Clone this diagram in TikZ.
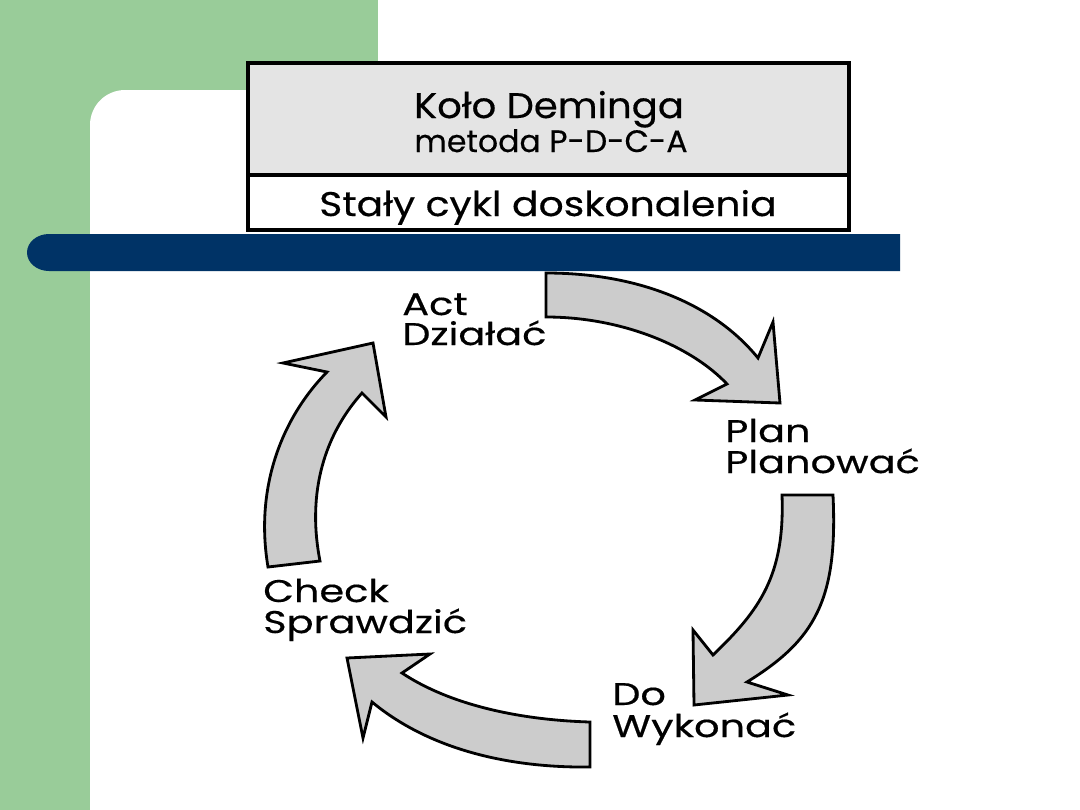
\documentclass[tikz,border=0pt]{standalone}
\usepackage{fontspec}
\setmainfont{Poppins}[FakeBold=0.4]
\usepackage{graphicx}
\definecolor{bggreen}{RGB}{153,204,153}
\definecolor{barblue}{RGB}{0,51,102}
\definecolor{titlegray}{RGB}{228,228,228}
\definecolor{arrowgray}{RGB}{204,204,204}
\newcommand{\stretchtxt}[2][1.27]{\scalebox{#1}[1]{#2}}
\begin{document}
\begin{tikzpicture}[x=0.025cm,y=-0.025cm,
  blockarrow/.style={fill=arrowgray, draw=black, line width=2pt, line join=miter, miter limit=10},
  boxpart/.style={draw=black, line width=2.2pt},
  lbl/.style={anchor=base west, inner sep=0pt, font=\fontsize{22.3}{26}\selectfont},
  ttl/.style={anchor=base, inner sep=0pt}]
\useasboundingbox (0,0) rectangle (1080,810);
% background
\fill[bggreen] (0,0) rectangle (378,810);
\fill[white, rounded corners=0.875cm] (90,900) -- (90,90) -- (1200,90) -- (1200,900) -- cycle;
\fill[barblue] (900,234) -- (49,234) arc[start angle=270, end angle=90, x radius=22, y radius=18.5] -- (900,271) -- cycle;
% title box
\filldraw[boxpart, fill=titlegray] (248,63) rectangle (849,175);
\filldraw[boxpart, fill=white] (248,175) rectangle (849,230);
\node[ttl, font=\fontsize{25.3}{29}\selectfont] (t1) at (549,118) {\stretchtxt[1.085]{Koło Deminga}};
\node[ttl, font=\fontsize{22}{26}\selectfont] (t2) at (551,152) {\stretchtxt[1.02]{metoda P-D-C-A}};
\node[ttl, font=\fontsize{24.3}{28}\selectfont] (t3) at (548,216) {\stretchtxt[1.15]{Stały cykl doskonalenia}};
% labels
\node[lbl] (act1) at (402,315) {\stretchtxt{Act}};
\node[lbl] (act2) at (402,345) {\stretchtxt{Działać}};
\node[lbl] (plan1) at (725,442) {\stretchtxt{Plan}};
\node[lbl] (plan2) at (725,473) {\stretchtxt{Planować}};
\node[lbl] (do1) at (612,705) {\stretchtxt{Do}};
\node[lbl] (do2) at (612,737) {\stretchtxt{Wykonać}};
\node[lbl] (chk1) at (263,602) {\stretchtxt{Check}};
\node[lbl] (chk2) at (263,633) {\stretchtxt{Sprawdzić}};
% arrows
\draw[blockarrow] (546,273) .. controls (640,273) and (715,305) .. (758,358)
  -- (773,322) -- (780,403) -- (695,400) -- (727,384)
  .. controls (690,345) and (620,317) .. (546,317) -- cycle;
\draw[blockarrow] (833,495) .. controls (838,600) and (815,640) .. (747,682)
  -- (788,695) -- (694,705) -- (693,630) -- (713,655)
  .. controls (760,610) and (785,575) .. (782,495) -- cycle;
\draw[blockarrow] (590,767) .. controls (510,768) and (430,750) .. (372,702)
  -- (363,738) -- (347,658) -- (430,654) -- (402,673)
  .. controls (450,705) and (520,720) .. (590,722) -- cycle;
\draw[blockarrow] (268,567) .. controls (255,490) and (280,420) .. (327,372)
  -- (283,363) -- (373,343) -- (386,417) -- (362,393)
  .. controls (320,440) and (308,500) .. (320,561) -- cycle;
\end{tikzpicture}
\end{document}
